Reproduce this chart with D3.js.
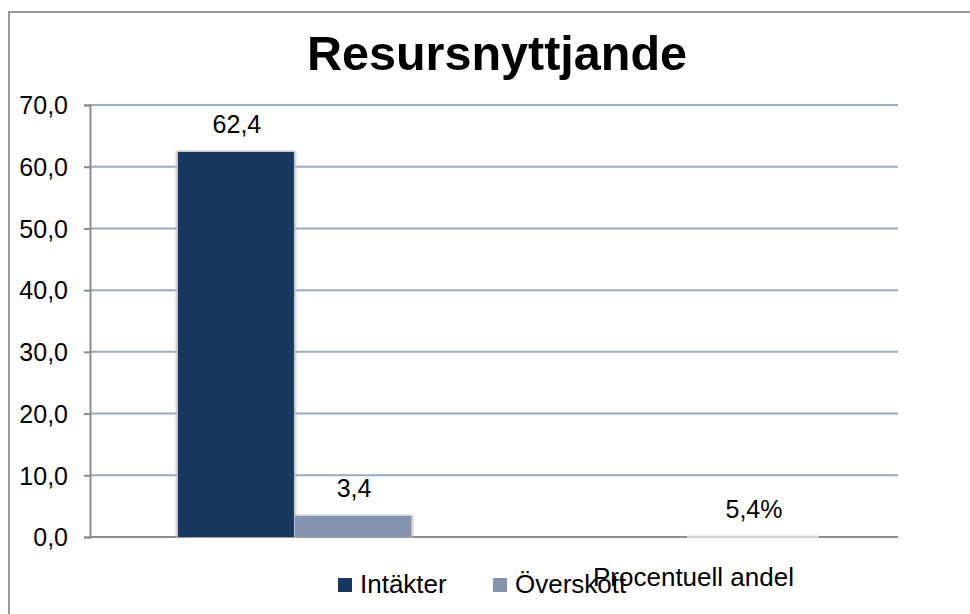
<!DOCTYPE html>
<html><head><meta charset="utf-8">
<script src="https://cdn.jsdelivr.net/npm/d3@7"></script>
<style>body{margin:0;background:#fff}svg{display:block;font-family:"Liberation Sans",Arial,sans-serif}</style>
</head><body>
<script>
const title = "Resursnyttjande";
const series = ["Intäkter", "Överskott", "Procentuell andel"];
const values = [62.4, 3.4, 0.054];
const labels = ["62,4", "3,4", "5,4%"];
const colors = ["#17375E", "#8593AE", "#D0D0D0"];
const yTicks = [0, 10, 20, 30, 40, 50, 60, 70];

(function () {
const W = 970, H = 614;
const svg = d3.select("body").append("svg").attr("width", W).attr("height", H);

const defs = svg.append("defs");
const f = defs.append("filter").attr("id", "sh").attr("x", "-20%").attr("y", "-20%").attr("width", "140%").attr("height", "140%");
f.append("feGaussianBlur").attr("stdDeviation", 1.2);

// frame
svg.append("rect").attr("x", 9).attr("y", 12).attr("width", 1000).attr("height", 700)
  .attr("fill", "none").attr("stroke", "#9a9a9a").attr("stroke-width", 2);

svg.append("text").attr("x", 497).attr("y", 70).attr("text-anchor", "middle")
  .attr("font-size", 48.5).attr("font-weight", "bold").attr("fill", "#000").text(title);

const pL = 90, pR = 898, pT = 105, pB = 537;
const y = d3.scaleLinear().domain([0, 70]).range([pB, pT]);
const fmt = d => d3.format(".1f")(d).replace(".", ",");

// gridlines
svg.append("g").selectAll("line").data(yTicks.filter(d => d > 0)).join("line")
  .attr("x1", pL).attr("x2", pR).attr("y1", d => y(d)).attr("y2", d => y(d))
  .attr("stroke", "#9EA9C2").attr("stroke-width", 2);

// y axis
const yAxis = d3.axisLeft(y).tickValues(yTicks).tickFormat(fmt).tickSize(6).tickPadding(16);
const ga = svg.append("g").attr("transform", `translate(${pL},0)`).call(yAxis);
ga.select(".domain").attr("stroke", "#8c8c8c").attr("stroke-width", 2);
ga.selectAll(".tick line").attr("stroke", "#8c8c8c").attr("stroke-width", 2);
ga.selectAll(".tick text").attr("font-size", 25).attr("font-family", "Liberation Sans, Arial, sans-serif").attr("fill", "#000").attr("dy", "0.35em");

// x axis line
svg.append("line").attr("x1", pL).attr("x2", pR).attr("y1", pB).attr("y2", pB)
  .attr("stroke", "#8c8c8c").attr("stroke-width", 2);

// bar positions via band scales
const xPrimary = d3.scaleBand().domain(series.slice(0, 2)).range([178, 411]).paddingInner(0.01);
const xSecondary = d3.scaleBand().domain(series.slice(2)).range([688, 818]);
const xb = s => (series.indexOf(s) < 2 ? xPrimary(s) : xSecondary(s));
const bw = s => (series.indexOf(s) < 2 ? xPrimary.bandwidth() : xSecondary.bandwidth());

const data = series.map((s, i) => ({ s, v: values[i], l: labels[i], c: colors[i] }));

// shadows
svg.append("g").selectAll("rect").data(data.slice(0, 2)).join("rect")
  .attr("x", d => xb(d.s) - 2).attr("y", d => y(d.v) - 1)
  .attr("width", d => bw(d.s) + 4).attr("height", d => y(0) - y(d.v) + 1)
  .attr("fill", "#bdbdbd").attr("filter", "url(#sh)");

svg.append("g").selectAll("rect").data(data).join("rect")
  .attr("x", d => xb(d.s)).attr("y", d => y(d.v))
  .attr("width", d => bw(d.s)).attr("height", d => Math.max(y(0) - y(d.v), 0))
  .attr("fill", d => d.c).attr("stroke", d => d.s === series[2] ? d.c : "none").attr("stroke-width", 2);

svg.append("g").selectAll("text").data(data).join("text")
  .attr("x", d => xb(d.s) + bw(d.s) / 2 + 1).attr("y", d => y(d.v) - 19)
  .attr("text-anchor", "middle").attr("font-size", 25).attr("fill", "#000").text(d => d.l);

// legend
const legX = [338, 493, 593];
const legY = [593, 593, 586];
const lg = svg.append("g");
data.forEach((d, i) => {
  if (i < 2) lg.append("rect").attr("x", legX[i]).attr("y", 578).attr("width", 14).attr("height", 14).attr("fill", d.c);
  lg.append("text").attr("x", i < 2 ? legX[i] + 22 : legX[i]).attr("y", legY[i])
    .attr("font-size", 26).attr("fill", "#000").text(d.s);
});
})();
</script>
</body></html>
